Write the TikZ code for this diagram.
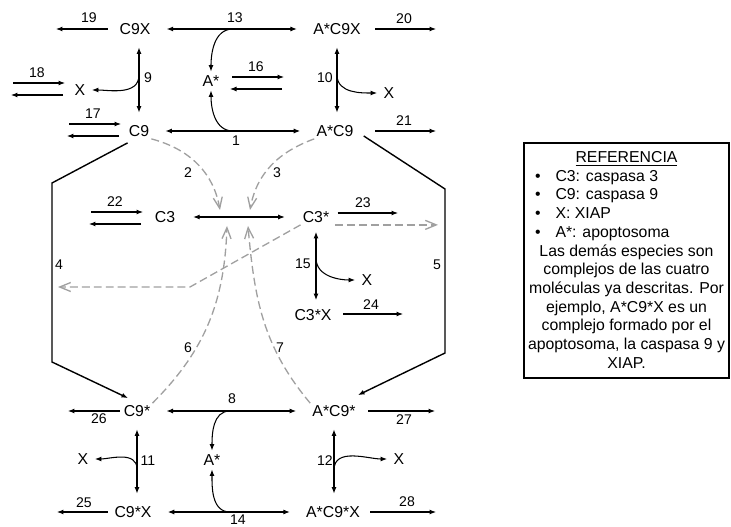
\documentclass[tikz,border=0pt]{standalone}
\usepackage{fontspec}
\setmainfont{Liberation Sans}
\usetikzlibrary{arrows.meta, positioning, calc}
\definecolor{cdash}{HTML}{A0A0A0}
\tikzset{
  every picture/.style={line width=0.6pt},
  sp/.style={inner sep=1pt, font=\fontsize{9}{10}\selectfont},
  num/.style={inner sep=0pt, font=\fontsize{8}{9}\selectfont},
  txt/.style={inner sep=0pt, anchor=base, font=\fontsize{9}{10.6}\selectfont},
  rxn/.style={-{Latex[length=1.3mm,width=1mm]}},
  rev/.style={{Latex[length=1.3mm,width=1mm]}-{Latex[length=1.3mm,width=1mm]}, shorten <=#1, shorten >=#1},
  rev/.default=8pt,
  stub/.style={rxn, shorten <=#1},
  tox/.style={rxn, shorten >=2.5pt},
  wall/.style={rxn, line width=0.8pt},
  dsh/.style={draw=cdash, line width=0.75pt, dash pattern=on 4.5pt off 2.3pt, -{Straight Barb[length=2.2mm,width=1.8mm]}},
}
\begin{document}
\begin{tikzpicture}[x=0.02cm, y=0.02cm]
  \useasboundingbox (0,0) rectangle (731,-527);
  % species
  \node[sp] (C9X) at (135,-29) {C9X};
  \node[sp] (AC9X) at (337,-29) {A*C9X};
  \node[sp] (Atop) at (211,-81) {A*};
  \node[sp] (Xa) at (80,-90) {X};
  \node[sp] (Xb) at (389,-93) {X};
  \node[sp] (C9) at (139,-131) {C9};
  \node[sp] (AC9) at (335,-131) {A*C9};
  \node[sp] (C3) at (165,-217) {C3};
  \node[sp] (C3s) at (316,-217) {C3*};
  \node[sp] (Xc) at (367,-280) {X};
  \node[sp] (C3sX) at (313,-315) {C3*X};
  \node[sp] (C9s) at (137,-411) {C9*};
  \node[sp] (AC9s) at (334,-411) {A*C9*};
  \node[sp] (Abot) at (212,-460) {A*};
  \node[sp] (Xd) at (83,-459) {X};
  \node[sp] (Xe) at (399,-459) {X};
  \node[sp] (C9sX) at (133,-512) {C9*X};
  \node[sp] (AC9sX) at (333,-512) {A*C9*X};

  % reversible steps
  \draw[rev] (C9X) -- (AC9X);
  \draw[rev] (C9) -- (AC9);
  \draw[rev=9pt] (C3) -- (C3s);
  \draw[rev] (C9s) -- (AC9s);
  \draw[rev] (C9sX) -- (AC9sX);
  \draw[rev=6pt] (C9.north) -- (C9.north |- C9X.south);
  \draw[rev=6pt] (AC9X.south) -- (AC9X.south |- AC9.north);
  \draw[rev=4pt] (C3s.south) -- (C3s.south |- C3sX.north);
  \draw[rev=6pt] (C9s.south) -- (C9s.south |- C9sX.north);
  \draw[rev=6pt] (AC9s.south) -- (AC9s.south |- AC9sX.north);

  % side products
  \coordinate (m13) at ($(Atop |- C9X)+(22,0)$);
  \coordinate (m1) at ($(Atop |- C9)+(22,0)$);
  \coordinate (m8) at ($(Abot |- C9s)+(18,0)$);
  \coordinate (m14) at ($(Abot |- C9sX)+(18,0)$);
  \draw[rxn, shorten >=1pt] (m13) to[out=180, in=90] (Atop);
  \draw[rxn, shorten >=1pt] (m1) to[out=180, in=-90] (Atop);
  \draw[rxn, shorten >=1pt] (m8) to[out=180, in=90] (Abot);
  \draw[rxn, shorten >=1pt] (m14) to[out=180, in=-90] (Abot);
  \draw[tox] ($(C9 |- Xa)+(0,15)$) to[out=-90, in=0] (Xa);
  \draw[tox] ($(AC9X |- Xb)+(0,18)$) to[out=-90, in=180] (Xb);
  \draw[tox] ($(C3s.south |- Xc)+(0,22)$) to[out=-90, in=180] (Xc);
  \draw[tox] ($(C9s |- Xd)+(0,-10)$) to[out=90, in=0] (Xd);
  \draw[tox] ($(AC9s |- Xe)+(0,-11)$) to[out=90, in=180] (Xe);

  % outflows
  \coordinate (o19) at (56,-29);
  \coordinate (o26) at (68,-411);
  \coordinate (o25) at (57,-512);
  \coordinate (o20) at (436,-29);
  \coordinate (o21) at (436,-131);
  \coordinate (o27) at (435,-411);
  \coordinate (o28) at (436,-512);
  \coordinate (o23) at (398,-213);
  \coordinate (o24) at (403,-314);
  \draw[stub=5.5pt] (C9X) -- (o19);
  \draw[stub=1pt] (C9s) -- (o26);
  \draw[stub=2.7pt] (C9sX) -- (o25);
  \draw[stub=7pt] (AC9X) -- (o20);
  \draw[stub=11pt] (AC9) -- (o21);
  \draw[stub=6pt] (AC9s) -- (o27);
  \draw[stub=4.5pt] (AC9sX) -- (o28);
  \draw[stub=3.5pt] (C3s.east |- o23) -- (o23);
  \draw[stub=5.5pt] (C3sX.east |- o24) -- (o24);

  % in/out pairs
  \foreach \x/\y/\l in {232/77/16, 69/124/17, 13/83/18, 91/212/22} {
    \draw[rxn] (\x,-\y) -- (\x+52,-\y);
    \draw[rxn] (\x+50,-\y-12) -- (\x-2,-\y-12);
    \node[num] (l\l) at (\x+24,-\y+10) {\l};
  }

  % activation paths
  \coordinate (h4a) at (52,-183);
  \coordinate (h4b) at (52,-362);
  \coordinate (h5a) at (445,-189);
  \coordinate (h5b) at (445,-353);
  \draw[wall] ($(C9.south west)+(1,-4)$) -- (h4a) -- (h4b) -- ($(C9s.north)+(-9,5)$);
  \draw[wall] ($(AC9.east)+(8,-5)$) -- (h5a) -- (h5b) -- ($(AC9s.north)+(24,8)$);

  % catalysis (dashed)
  \coordinate (t2) at (220,-210);
  \coordinate (t3) at (250,-210);
  \coordinate (t6) at (227,-226);
  \coordinate (t7) at (248,-226);
  \coordinate (k4) at (190,-287);
  \coordinate (e4) at (58,-287);
  \coordinate (e23) at (438,-224);
  \draw[dsh] (C9.south east) to[out=-15, in=100] (t2);
  \draw[dsh] (AC9.south west) to[out=200, in=80] (t3);
  \draw[dsh] (C9s.north east) to[out=45, in=-92] (t6);
  \draw[dsh] (AC9s.north west) to[out=130, in=-85] (t7);
  \draw[dsh] (C3s.south west) -- (k4) -- (e4);
  \draw[dsh, shorten <=2pt] (C3s.south east) -- (C3s.south east -| e23);

  % step numbers
  \foreach \x/\y/\l in {236/141/1, 188/173/2, 277/173/3, 59/265/4, 437/265/5,
      188/348/6, 280/348/7, 232/399/8, 148/78/9, 325/78/10, 148/461/11,
      325/461/12, 235/18/13, 238/520/14, 303/264/15, 89/18/19, 404/19/20,
      404/121/21, 363/203/23, 371/305/24, 84/503/25, 99/419/26, 404/420/27,
      407/502/28}
    \node[num] (l\l) at (\x,-\y) {\l};

  % reference box
  \draw[line width=0.9pt] (524,-143) rectangle (729,-378);
  \node[txt] (ref) at (626.5,-162.5) {\underline{REFERENCIA}};
  \foreach \t [count=\i] in {C3: caspasa 3, C9: caspasa 9, X: XIAP, A*: apoptosoma} {
    \node[txt] (b\i) at (538,-162.5-18.7*\i) {\textbullet};
    \node[txt, anchor=base west] (r\i) at (555,-162.5-18.7*\i) {\t};
  }
  \foreach \t [count=\i from 5] in {{Las demás especies son}, {complejos de las cuatro},
      {moléculas ya descritas. Por}, {ejemplo, A*C9*X es un}, {complejo formado por el},
      {apoptosoma, la caspasa 9 y}, {XIAP.}}
    \node[txt] (p\i) at (626.5,-162.5-18.7*\i) {\t};
\end{tikzpicture}
\end{document}
